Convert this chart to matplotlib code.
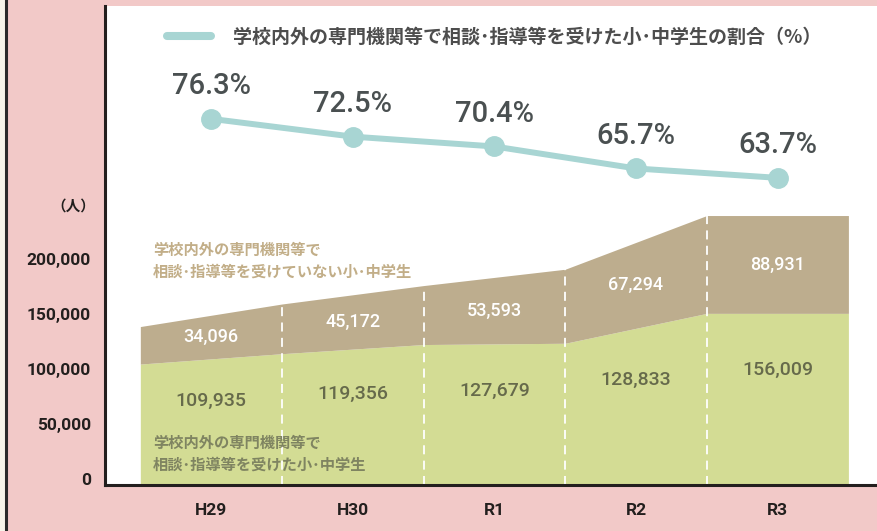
import matplotlib
matplotlib.use("Agg")
import matplotlib.pyplot as plt
from matplotlib.lines import Line2D
from matplotlib.patches import Rectangle

plt.rcParams['font.family'] = ['Roboto', 'Noto Sans CJK JP', 'DejaVu Sans']

# data
years = ['H29', 'H30', 'R1', 'R2', 'R3']
consulted = [109935, 119356, 127679, 128833, 156009]
not_consulted = [34096, 45172, 53593, 67294, 88931]
ratio = [76.3, 72.5, 70.4, 65.7, 63.7]
yticks = [0, 50000, 100000, 150000, 200000]

legend_label = '学校内外の専門機関等で相談･指導等を受けた小･中学生の割合（%）'
label_not = '学校内外の専門機関等で\n相談･指導等を受けていない小･中学生'
label_yes = '学校内外の専門機関等で\n相談･指導等を受けた小･中学生'

pink = '#f2c9c8'
green = '#d3dc94'
brown = '#bdad8e'
teal = '#a8d5d3'
dark = '#231f1e'

W, H = 878, 531
fig = plt.figure(figsize=(W / 100, H / 100), dpi=100, facecolor=pink)

# page border on the left
fig.patches.append(Rectangle((0, 0), 5 / W, 1, transform=fig.transFigure,
                             color='#f7f5ea', zorder=0))
fig.add_artist(Line2D([6.5 / W, 6.5 / W], [0, 1], transform=fig.transFigure,
                      color='#2b2b2b', lw=2.2))

left, right, top, bottom = 105.5, 878, 6, 485
ax = fig.add_axes([left / W, (H - bottom) / H, (right - left) / W, (bottom - top) / H])
ax.set_facecolor('white')
ax.set_xlim(-0.746, 4.709)
ax.set_ylim(0, 435400)

totals = [a + b for a, b in zip(consulted, not_consulted)]
xs = [i - 0.5 for i in range(len(years))] + [len(years) - 0.5]
g_ext = consulted + [consulted[-1]]
t_ext = totals + [totals[-1]]
ax.fill_between(xs, 0, g_ext, color=green, lw=0)
ax.fill_between(xs, g_ext, t_ext, color=brown, lw=0)
ax.vlines(xs[1:len(years)], 0, totals[1:], colors='white', lw=1.3,
          linestyles=(0, (5, 3.5)))

for i in range(len(years)):
    g_mid = (g_ext[i] + g_ext[i + 1]) / 2
    t_mid = (t_ext[i] + t_ext[i + 1]) / 2
    ax.text(i, (g_mid + t_mid) / 2, f'{not_consulted[i]:,}', ha='center', va='center',
            color='white', fontsize=13, fontweight='medium')
    ax.text(i, g_mid * 0.67, f'{consulted[i]:,}', ha='center', va='center',
            color='#666a4b', fontsize=14, fontweight='medium')

ax.text(-0.41, 204000, label_not, family=['Noto Sans CJK JP'], fontsize=11,
        color='#c2ae88', fontweight='bold', va='center', ha='left', linespacing=1.45)
ax.text(-0.41, 28000, label_yes, family=['Noto Sans CJK JP'], fontsize=11,
        color='#7f8461', fontweight='bold', va='center', ha='left', linespacing=1.45)

for s in ['top', 'right']:
    ax.spines[s].set_visible(False)
for s in ['left', 'bottom']:
    ax.spines[s].set_color(dark)
    ax.spines[s].set_linewidth(2.2)
ax.set_xticks(range(len(years)))
ax.set_xticklabels(years, fontsize=12.5, fontweight='bold', color=dark)
ax.set_yticks(yticks)
ax.set_yticklabels([f'{v:,}' for v in yticks], fontsize=12.5, fontweight='bold',
                   color=dark, va='baseline')
ax.tick_params(axis='y', length=0, pad=10.5)
ax.tick_params(axis='x', length=0, pad=13)
ax.text(-0.82, 254000, '（人）', family=['Noto Sans CJK JP'], fontsize=10.5,
        fontweight='bold', color=dark, ha='right', va='center', clip_on=False)

# ratio line on its own scale
ax2 = ax.twinx()
ax2.set_ylim(-1.9, 100.4)
ax2.axis('off')
ax2.plot(range(len(years)), ratio, color=teal, lw=4.3, marker='o', ms=14,
         solid_capstyle='round')
for i, r in enumerate(ratio):
    ax2.annotate(f'{r}%', (i, r), xytext=(0, 23.5), textcoords='offset points',
                 ha='center', va='center', fontsize=21, fontweight='medium',
                 color='#4a5051')

handle = Line2D([], [], color=teal, lw=5.8, solid_capstyle='round')
leg = ax2.legend([handle], [legend_label], loc='center left',
                 bbox_to_anchor=(167 / W, 1 - 37 / H), bbox_transform=fig.transFigure,
                 frameon=False, borderpad=0, borderaxespad=0, handlelength=2.3,
                 handletextpad=1.15, prop={'family': ['Noto Sans CJK JP'], 'size': 13.7,
                                           'weight': 'bold'})
for t in leg.get_texts():
    t.set_color('#4d4d4d')

fig.savefig('out.png', dpi=100, facecolor=pink)
